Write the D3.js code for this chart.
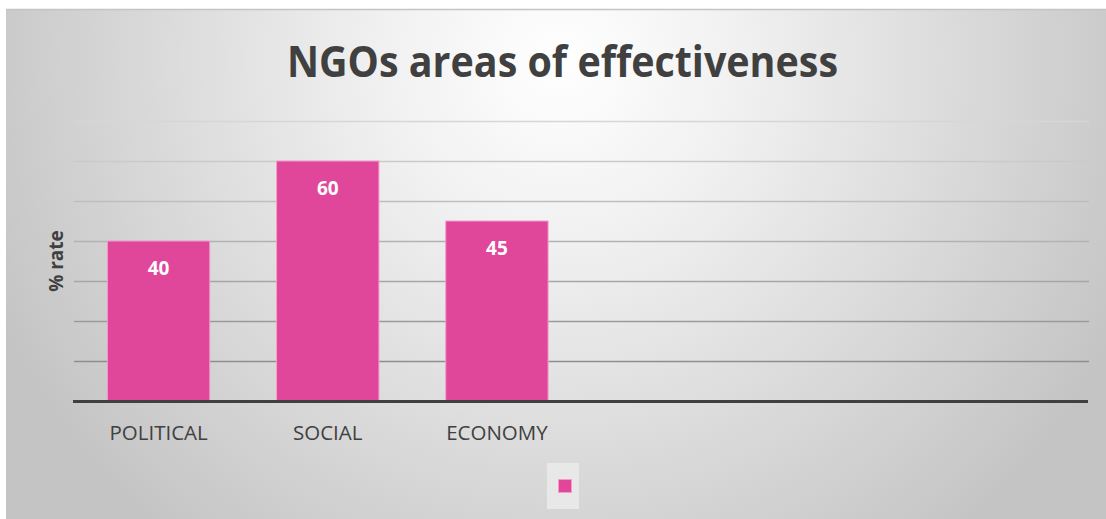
<!DOCTYPE html>
<html>
<head>
<meta charset="utf-8">
<script src="https://cdn.jsdelivr.net/npm/d3@7"></script>
<style>
  body { margin: 0; background: #fff; }
  svg { display: block; }
</style>
</head>
<body>
<div class="chart"></div>
<script>
// Data
var categories = ["POLITICAL", "SOCIAL", "ECONOMY"];
var values = [40, 60, 45];
var slotCount = 6; // axis has room for six categories, only three used
var yTicks = [0, 10, 20, 30, 40, 50, 60, 70];
var titleText = "NGOs areas of effectiveness";
var yLabel = "% rate";

// Layout
var svgWidth = 1106;
var svgHeight = 519;
var margin = { top: 121, left: 74, right: 17, bottom: 118 };
var width = svgWidth - margin.left - margin.right;
var height = svgHeight - margin.top - margin.bottom;

var svg = d3.select(".chart").append("svg")
  .attr("width", svgWidth)
  .attr("height", svgHeight);

// background gradient
var defs = svg.append("defs");
var grad = defs.append("radialGradient")
  .attr("id", "bg")
  .attr("gradientUnits", "userSpaceOnUse")
  .attr("cx", 560).attr("cy", 60).attr("r", 620);
grad.append("stop").attr("offset", "0%").attr("stop-color", "#ffffff");
grad.append("stop").attr("offset", "30%").attr("stop-color", "#f0f0f0");
grad.append("stop").attr("offset", "100%").attr("stop-color", "#c4c4c4");

svg.append("rect")
  .attr("x", 6).attr("y", 10)
  .attr("width", svgWidth - 6).attr("height", svgHeight - 10)
  .attr("fill", "url(#bg)");
svg.append("line")
  .attr("x1", 6).attr("x2", svgWidth)
  .attr("y1", 9.5).attr("y2", 9.5)
  .attr("stroke", "#c4c4c4").attr("stroke-width", 1.5);

var chart = svg.append("g")
  .attr("transform", "translate(" + margin.left + "," + margin.top + ")");

// scales
var xScale = d3.scaleBand()
  .domain(d3.range(slotCount))
  .range([0, width])
  .paddingInner(0.395)
  .paddingOuter(0.1975);

var yScale = d3.scaleLinear().domain([0, 70]).range([height, 0]);

// gridlines, lighter toward the top
var gridColor = d3.scaleLinear().domain([70, 10]).range(["#d6d6d6", "#8e8e8e"]);
chart.selectAll(".grid")
  .data(yTicks.filter(function(t) { return t > 0; }))
  .enter()
  .append("line")
  .attr("class", "grid")
  .attr("x1", 0).attr("x2", width)
  .attr("y1", function(d) { return Math.round(yScale(d)) + 0.5; })
  .attr("y2", function(d) { return Math.round(yScale(d)) + 0.5; })
  .attr("stroke", function(d) { return gridColor(d); })
  .attr("stroke-width", 1.3);

// bars
chart.selectAll(".bar")
  .data(values)
  .enter()
  .append("rect")
  .attr("class", "bar")
  .attr("x", function(d, i) { return xScale(i); })
  .attr("y", function(d) { return yScale(d); })
  .attr("width", xScale.bandwidth())
  .attr("height", function(d) { return height - yScale(d); })
  .attr("fill", "#e0479a")
  .attr("stroke", "#f39ccc")
  .attr("stroke-width", 1);

// value labels
chart.selectAll(".val")
  .data(values)
  .enter()
  .append("text")
  .attr("class", "val")
  .attr("x", function(d, i) { return xScale(i) + xScale.bandwidth() / 2; })
  .attr("y", function(d) { return yScale(d) + 34; })
  .attr("text-anchor", "middle")
  .attr("font-family", "Open Sans, sans-serif")
  .attr("font-weight", "bold")
  .attr("font-size", 19)
  .attr("fill", "#ffffff")
  .text(function(d) { return d; });

// baseline
chart.append("line")
  .attr("x1", -1).attr("x2", width - 1)
  .attr("y1", height + 0.5).attr("y2", height + 0.5)
  .attr("stroke", "#404040").attr("stroke-width", 3.2);

// category labels
chart.selectAll(".cat")
  .data(categories)
  .enter()
  .append("text")
  .attr("class", "cat")
  .attr("x", function(d, i) { return xScale(i) + xScale.bandwidth() / 2; })
  .attr("y", height + 39)
  .attr("text-anchor", "middle")
  .attr("font-family", "Open Sans, sans-serif")
  .attr("font-size", 20.5)
  .attr("fill", "#404040")
  .text(function(d) { return d; });

// y axis title
chart.append("text")
  .attr("transform", "translate(" + (-11) + "," + (height / 2) + ") rotate(-90)")
  .attr("text-anchor", "middle")
  .attr("font-family", "Open Sans, sans-serif")
  .attr("font-weight", "bold")
  .attr("font-size", 19)
  .attr("fill", "#404040")
  .text(yLabel);

// chart title
svg.append("text")
  .attr("x", 562.5)
  .attr("y", 77)
  .attr("text-anchor", "middle")
  .attr("font-family", "Open Sans, sans-serif")
  .attr("font-weight", "bold")
  .attr("font-size", 43)
  .attr("fill", "#404040")
  .attr("textLength", 551)
  .attr("lengthAdjust", "spacingAndGlyphs")
  .text(titleText);

// legend
svg.append("rect")
  .attr("x", 547).attr("y", 463)
  .attr("width", 32).attr("height", 46)
  .attr("fill", "#e8e8e8");
svg.append("rect")
  .attr("x", 558.5).attr("y", 479.5)
  .attr("width", 13).attr("height", 13)
  .attr("fill", "#e0479a")
  .attr("stroke", "#f39ccc")
  .attr("stroke-width", 1);
</script>
</body>
</html>
